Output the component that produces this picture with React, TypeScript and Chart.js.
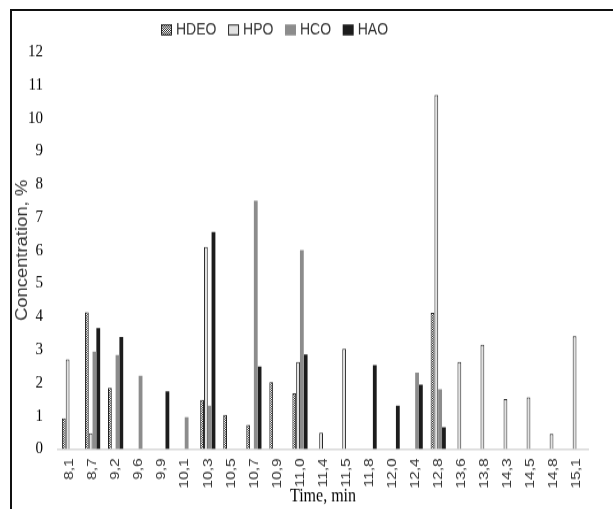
import { useEffect, useRef } from 'react';
import { Chart, registerables } from 'chart.js';

Chart.register(...registerables);

// ---- data ----
const categories = ['8,1', '8,7', '9,2', '9,6', '9,9', '10,1', '10,3', '10,5', '10,7', '10,9', '11,0', '11,4', '11,5', '11,8', '12,0', '12,4', '12,8', '13,6', '13,8', '14,3', '14,5', '14,8', '15,1'];
const seriesNames = ['HDEO', 'HPO', 'HCO', 'HAO'];
const hdeo = [0.93, 4.13, 1.85, null, null, null, 1.48, 1.03, 0.73, 2.02, 1.68, null, null, null, null, null, 4.11, null, null, null, null, null, null];
const hpo = [2.71, 0.47, null, null, null, null, 6.1, null, null, null, 2.63, 0.49, 3.03, null, null, null, 10.7, 2.63, 3.15, 1.51, 1.56, 0.46, 3.41];
const hco = [null, 2.94, 2.84, 2.21, null, 0.96, 1.31, null, 7.5, null, 6.01, null, null, null, null, 2.31, 1.8, null, null, null, null, null, null];
const hao = [null, 3.65, 3.38, null, 1.74, null, 6.55, null, 2.49, null, 2.85, null, null, 2.53, 1.31, 1.94, 0.66, null, null, null, null, null, null];
const yMin = 0;
const yMax = 12;
const yStep = 1;
const xTitle = 'Time, min';
const yTitle = 'Concentration, %';

const W = 613;
const H = 509;
const S = 1.15;
const CH = Math.round(H / S);

const SANS = '"Liberation Sans", Arial, sans-serif';
const SERIF = '"Liberation Serif", "Times New Roman", serif';

function makeChecker(): CanvasPattern | string {
  const pc = document.createElement('canvas');
  pc.width = 2;
  pc.height = 2;
  const c = pc.getContext('2d');
  if (!c) return '#888';
  c.fillStyle = '#ffffff';
  c.fillRect(0, 0, 2, 2);
  c.fillStyle = '#2e2e2e';
  c.fillRect(0, 0, 1, 1);
  c.fillRect(1, 1, 1, 1);
  const p = c.createPattern(pc, 'repeat');
  return p || '#888';
}

const legendPlugin = {
  id: 'customLegend',
  afterDraw(chart: any) {
    const ctx = chart.ctx as CanvasRenderingContext2D;
    ctx.save();
    ctx.font = `14px ${SANS}`;
    ctx.textBaseline = 'middle';
    ctx.textAlign = 'left';
    let x = 161;
    const y = 26;
    const bw = 11;
    const bh = 9.6;
    chart.data.datasets.forEach((ds: any) => {
      ctx.fillStyle = ds.backgroundColor;
      ctx.fillRect(x, y - bh / 2, bw, bh);
      if (ds.borderWidth) {
        ctx.strokeStyle = ds.borderColor;
        ctx.lineWidth = 1;
        ctx.strokeRect(x + 0.5, y - bh / 2 + 0.5, bw - 1, bh - 1);
      }
      ctx.fillStyle = '#333333';
      ctx.fillText(ds.label, x + bw + 4, y);
      x += bw + 4 + ctx.measureText(ds.label).width + 11.6;
    });
    ctx.restore();
  },
};

export default function App() {
  const ref = useRef<HTMLCanvasElement | null>(null);

  useEffect(() => {
    if (!ref.current) return;
    const checker = makeChecker();
    const common = { categoryPercentage: 0.66, barPercentage: 1.0 };
    const chart = new Chart(ref.current, {
      type: 'bar',
      data: {
        labels: categories,
        datasets: [
          { label: seriesNames[0], data: hdeo, backgroundColor: checker as any, borderColor: '#222222', borderWidth: 1, ...common },
          { label: seriesNames[1], data: hpo, backgroundColor: '#e2e2e2', borderColor: '#2a2a2a', borderWidth: 1, ...common },
          { label: seriesNames[2], data: hco, backgroundColor: '#8c8c8c', borderWidth: 0, ...common },
          { label: seriesNames[3], data: hao, backgroundColor: '#1c1c1c', borderWidth: 0, ...common },
        ],
      },
      options: {
        responsive: false,
        maintainAspectRatio: false,
        devicePixelRatio: 1,
        animation: false,
        layout: { padding: { left: 12, top: 45, right: W - 588, bottom: 0 } },
        plugins: {
          legend: { display: false },
          tooltip: { enabled: false },
        },
        scales: {
          x: {
            type: 'category',
            offset: true,
            grid: { display: false, drawTicks: false },
            border: { display: true, color: '#d9d9d9', width: 1.5 },
            ticks: {
              autoSkip: false,
              minRotation: 90,
              maxRotation: 90,
              padding: 8,
              color: '#333333',
              font: { family: SANS, size: 13.5 },
            },
            title: {
              display: true,
              text: xTitle,
              color: '#000',
              font: { family: SERIF, size: 16 },
              padding: { top: 0, bottom: 1.2 },
            },
            afterFit(scale: any) {
              scale.height = CH - 390.4;
            },
          },
          y: {
            min: yMin,
            max: yMax,
            grid: { display: false, drawTicks: false },
            border: { display: false },
            ticks: {
              stepSize: yStep,
              padding: 15,
              color: '#000',
              font: { family: SERIF, size: 15 },
            },
            title: {
              display: true,
              text: yTitle,
              color: '#333',
              font: { family: SANS, size: 16 },
              padding: { top: 0.5, bottom: 0 },
            },
            afterFit(scale: any) {
              scale.width = 46;
            },
          },
        },
      },
      plugins: [legendPlugin],
    });
    return () => chart.destroy();
  }, []);

  return (
    <div style={{ position: 'fixed', left: 0, top: 0, width: W, height: H, overflow: 'hidden', background: '#fff' }}>
      <div style={{ position: 'absolute', left: 0, top: 0, width: W, height: CH, transform: `scaleY(${S})`, transformOrigin: 'top left' }}>
        <canvas ref={ref} width={W} height={CH} style={{ display: 'block' }} />
      </div>
      <div
        style={{
          position: 'absolute',
          left: 10,
          top: 9,
          width: W + 20,
          height: H + 20,
          borderLeft: '2px solid #111',
          borderTop: '2px solid #111',
          pointerEvents: 'none',
        }}
      />
    </div>
  );
}
